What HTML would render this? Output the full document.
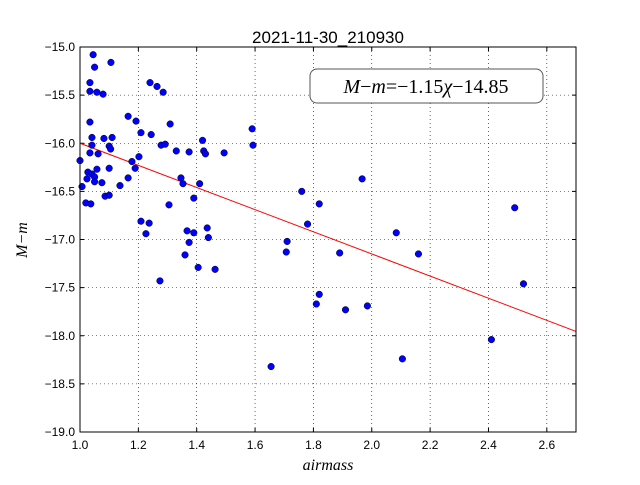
<!DOCTYPE html>
<html><head><meta charset="utf-8"><style>
body{margin:0;background:#fff;width:640px;height:480px;overflow:hidden;font-family:"Liberation Sans",sans-serif}
</style></head><body>
<svg id="c" width="640" height="480" xmlns="http://www.w3.org/2000/svg"></svg>
<script>
const xVals=[1.0,1.007,1.045,1.05,1.106,1.034,1.034,1.058,1.079,1.034,1.041,1.041,1.034,1.062,1.082,1.11,1.10,1.105,1.10,1.058,1.027,1.041,1.05,1.024,1.05,1.075,1.02,1.037,1.086,1.10,1.137,1.165,1.192,1.209,1.24,1.264,1.285,1.244,1.309,1.278,1.292,1.202,1.178,1.189,1.165,1.33,1.374,1.42,1.424,1.43,1.494,1.59,1.593,1.209,1.237,1.226,1.305,1.346,1.353,1.41,1.39,1.367,1.39,1.436,1.44,1.374,1.36,1.405,1.463,1.274,1.655,1.71,1.707,1.76,1.78,1.82,1.82,1.81,1.89,1.91,1.967,1.985,2.084,2.105,2.16,2.41,2.49,2.52];
const yVals=[-16.18,-16.45,-15.08,-15.21,-15.16,-15.37,-15.46,-15.47,-15.49,-15.78,-15.94,-16.02,-16.10,-16.11,-15.95,-15.94,-16.03,-16.06,-16.26,-16.27,-16.30,-16.32,-16.35,-16.37,-16.40,-16.41,-16.62,-16.63,-16.55,-16.54,-16.44,-15.72,-15.77,-15.89,-15.37,-15.41,-15.47,-15.91,-15.80,-16.02,-16.01,-16.14,-16.19,-16.26,-16.36,-16.08,-16.09,-15.97,-16.08,-16.11,-16.10,-15.85,-16.02,-16.81,-16.83,-16.94,-16.64,-16.36,-16.42,-16.42,-16.57,-16.91,-16.93,-16.88,-16.98,-17.03,-17.16,-17.29,-17.31,-17.43,-18.32,-17.02,-17.13,-16.50,-16.84,-16.63,-17.57,-17.67,-17.14,-17.73,-16.37,-17.69,-16.93,-18.24,-17.15,-18.04,-16.67,-17.46];
const fitSlope=-1.15, fitIntercept=-14.85;
const xTicks=[1.0,1.2,1.4,1.6,1.8,2.0,2.2,2.4,2.6];
const yTicks=[-15.0,-15.5,-16.0,-16.5,-17.0,-17.5,-18.0,-18.5,-19.0];
const L=80,R=576,T=47,B=432,xMin=1.0,xMax=2.7,yTop=-15.0,yBot=-19.0;
const sx=v=>L+(v-xMin)/(xMax-xMin)*(R-L);
const sy=v=>T+(v-yTop)/(yBot-yTop)*(B-T);
const svg=document.getElementById('c');const NS='http://www.w3.org/2000/svg';
function mk(t,a,p){const e=document.createElementNS(NS,t);for(const k in a)e.setAttribute(k,a[k]);(p||svg).appendChild(e);return e;}
xTicks.forEach(v=>{const x=sx(v);
 const g=mk('line',{x1:x,x2:x,y1:T,y2:B,stroke:'#000','stroke-width':0.6,'stroke-dasharray':'1,3'});
 
 
 mk('line',{x1:x,x2:x,y1:B,y2:B-4,stroke:'#000'});mk('line',{x1:x,x2:x,y1:T,y2:T+4,stroke:'#000'});
 const t=mk('text',{x:x,y:B+17,'text-anchor':'middle','font-size':12});t.textContent=v.toFixed(1);
 
 });
yTicks.forEach(v=>{const y=sy(v);
 const g=mk('line',{x1:L,x2:R,y1:y,y2:y,stroke:'#000','stroke-width':0.6,'stroke-dasharray':'1,3'});
 
 
 mk('line',{x1:L,x2:L+4,y1:y,y2:y,stroke:'#000'});mk('line',{x1:R,x2:R-4,y1:y,y2:y,stroke:'#000'});
 const t=mk('text',{x:L-5,y:y+4,'text-anchor':'end','font-size':12});t.textContent='\u2212'+Math.abs(v).toFixed(1);
 
 });
const fl=mk('line',{x1:sx(xMin),y1:sy(fitSlope*xMin+fitIntercept),x2:sx(xMax),y2:sy(fitSlope*xMax+fitIntercept),stroke:'#f00','stroke-width':1});


xVals.forEach((v,i)=>{const c=mk('circle',{cx:sx(v),cy:sy(yVals[i]),r:3.3,fill:'#0000ff',stroke:'#000','stroke-width':0.5});
 
 });
const fr=mk('rect',{x:L,y:T,width:R-L,height:B-T,fill:'none',stroke:'#000','stroke-width':1});


const tt=mk('text',{x:328,y:43,'text-anchor':'middle','font-size':17});
tt.innerHTML='2021-11-30<tspan dy="0">_</tspan>210930';


const xl=mk('text',{x:328,y:470,'text-anchor':'middle','font-size':16,'font-style':'italic','font-family':'Liberation Serif, serif'});xl.textContent='airmass';


const yl=mk('text',{x:27,y:240,'text-anchor':'middle','font-size':16,'font-style':'italic','font-family':'Liberation Serif, serif',transform:'rotate(-90 27 240)'});yl.textContent='M\u2212m';


const bx=mk('rect',{x:310,y:69,width:233,height:34,rx:7,fill:'#fff',stroke:'#555','stroke-width':1});


const eq=mk('text',{x:426,y:93,'text-anchor':'middle','font-size':20,'font-family':'Liberation Serif, serif'});
eq.innerHTML='<tspan font-style="italic">M</tspan>\u2212<tspan font-style="italic">m</tspan>=\u22121.15<tspan font-style="italic">\u03c7</tspan>\u221214.85';


</script>
</body></html>
